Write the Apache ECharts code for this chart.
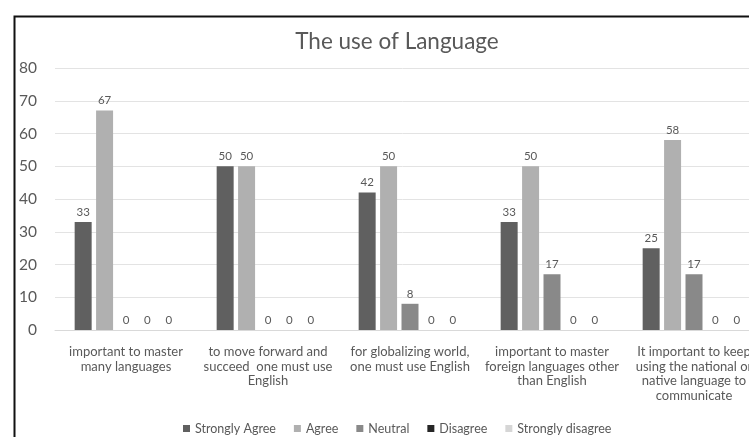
<!DOCTYPE html>
<html>
<head>
<meta charset="utf-8">
<script src="https://cdn.jsdelivr.net/npm/echarts@6/dist/echarts.min.js"></script>
<style>
html,body{margin:0;padding:0;background:#fff;}
#chart{width:749px;height:437px;}
</style>
</head>
<body>
<div id="chart"></div>
<script>
const categories = [
  "important to master\nmany languages",
  "to move forward and\nsucceed  one must use\nEnglish",
  "for globalizing world,\none must use English",
  "important to master\nforeign languages other\nthan English",
  "It important to keep\nusing the national or\nnative language to\ncommunicate"
];
const seriesNames = ["Strongly Agree", "Agree", "Neutral", "Disagree", "Strongly disagree"];
const stronglyAgree = [33, 50, 42, 33, 25];
const agree = [67, 50, 50, 50, 58];
const neutral = [0, 0, 8, 17, 17];
const disagree = [0, 0, 0, 0, 0];
const stronglyDisagree = [0, 0, 0, 0, 0];
const yTicks = [0, 10, 20, 30, 40, 50, 60, 70, 80];

const values = [stronglyAgree, agree, neutral, disagree, stronglyDisagree];
const colors = ["#606060", "#b0b0b0", "#898989", "#262626", "#d6d6d6"];
const font = "Lato, 'Open Sans', sans-serif";

const chart = echarts.init(document.getElementById('chart'));
chart.setOption({
  animation: false,
  backgroundColor: '#fff',
  title: {
    text: 'The use of Language',
    left: 392, top: 25, textAlign: 'center',
    textStyle: {fontFamily: font, fontSize: 22.5, fontWeight: 'normal', color: '#595959'}
  },
  graphic: [{
    type: 'rect', left: 12, top: 14, z: 100,
    shape: {x: 0, y: 0, width: 800, height: 500},
    style: {fill: 'none', stroke: '#111', lineWidth: 2}
  }],
  legend: {
    top: 417, left: 178,
    itemWidth: 7, itemHeight: 7, itemGap: 18,
    icon: 'rect',
    textStyle: {fontFamily: font, fontSize: 12.5, color: '#595959'},
    data: seriesNames
  },
  grid: {left: 55, width: 710, top: 68, bottom: 107, containLabel: false, outerBoundsMode: 'none'},
  xAxis: {
    type: 'category', data: categories,
    axisLine: {lineStyle: {color: '#d9d9d9'}},
    axisTick: {show: false},
    axisLabel: {fontFamily: font, fontSize: 13, color: '#595959', lineHeight: 14.5, margin: 15, interval: 0}
  },
  yAxis: {
    type: 'value', min: yTicks[0], max: yTicks[yTicks.length - 1], interval: 10,
    axisLine: {show: false}, axisTick: {show: false},
    splitLine: {lineStyle: {color: '#e3e3e3'}},
    axisLabel: {fontFamily: font, fontSize: 15.5, color: '#595959', margin: 18}
  },
  series: seriesNames.map((n, i) => ({
    name: n, type: 'bar', data: values[i],
    barWidth: 17, barGap: '26%',
    itemStyle: {color: colors[i]},
    label: {show: true, position: 'top', distance: 4, fontFamily: font, fontSize: 11.5, color: '#595959'}
  }))
});
</script>
</body>
</html>
